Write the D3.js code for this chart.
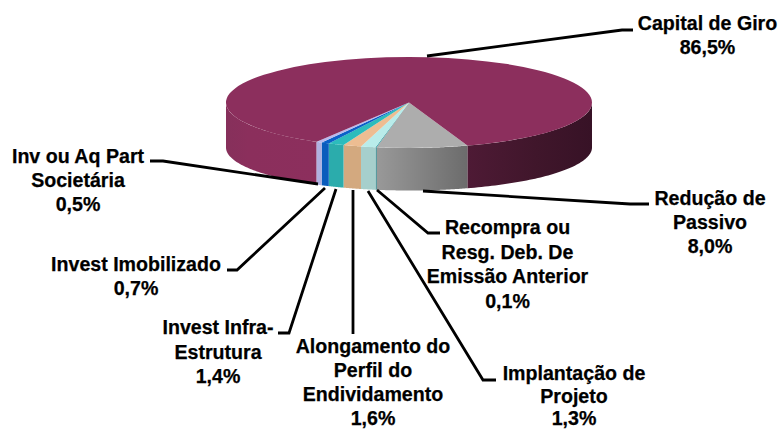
<!DOCTYPE html>
<html><head><meta charset="utf-8">
<script src="https://cdn.jsdelivr.net/npm/d3@7"></script>
<style>html,body{margin:0;padding:0;background:#fff}svg{display:block}
text{font-family:"Liberation Sans",Arial,sans-serif;font-weight:bold;font-size:19.6px;fill:#000;text-anchor:middle;stroke:#000;stroke-width:.25}</style>
</head><body><svg id="c" width="781" height="430"></svg>
<script>
const categories=["Redução de Passivo","Recompra ou Resg. Deb. De Emissão Anterior","Implantação de Projeto","Alongamento do Perfil do Endividamento","Invest Infra-Estrutura","Invest Imobilizado","Inv ou Aq Part Societária","Capital de Giro"];
const values=[8.0,0.1,1.3,1.6,1.4,0.7,0.5,86.5];
const valueLabels=["8,0%","0,1%","1,3%","1,6%","1,4%","0,7%","0,5%","86,5%"];
const labelLines=[["Redução de","Passivo"],["Recompra ou","Resg. Deb. De","Emissão Anterior"],["Implantação de","Projeto"],["Alongamento do","Perfil do","Endividamento"],["Invest Infra-","Estrutura"],["Invest Imobilizado"],["Inv ou Aq Part","Societária"],["Capital de Giro"]];
const topColors=["#adadad","#2a9aa0","#b9ecea","#edbd92","#2cbcbc","#0a60c8","#b9b9ec","#8c2f5d"];
const sideStops=[["#999999","#6c6c6c"],["#1c7a80","#1c7a80"],["#a6cfcc","#a6cfcc"],["#d3a97f","#d3a97f"],["#2bacac","#2bacac"],["#0a5cbc","#0a5cbc"],["#b0b0e0","#b0b0e0"],null];

const W=781,H=430,cx=409,cy=102.5,rx=183,ry=45.5,cyB=147.5,ryB=43;
const startAngle=(180-18.6)*Math.PI/180;
// label layout: centre x, first baseline, line gap, leader tip, elbow and end
const labelPos=[
 {x:710,y:205,gap:24,tip:[423,191],elbow:[630,204],end:[649,204]},
 {x:507.5,y:234,gap:24.7,tip:[377,190],elbow:[428,233],end:[440,233]},
 {x:574,y:380,gap:22.5,tip:[368,191],elbow:[483,380],end:[496,380]},
 {x:373,y:353,gap:24,tip:[353,190],elbow:[353,334],end:[353,334]},
 {x:218,y:334,gap:24.5,tip:[336,189],elbow:[289,333],end:[278,333]},
 {x:136,y:271,gap:24,tip:[325,188],elbow:[237,270],end:[227,270]},
 {x:78,y:163,gap:24,tip:[318,184],elbow:[163,161],end:[150,161]},
 {x:707.5,y:30,gap:24,tip:[427,56],elbow:[622,30],end:[633,30]}
];

const svg=d3.select("#c");
const defs=svg.append("defs");
const pie=d3.pie().sort(null).startAngle(startAngle).endAngle(startAngle+2*Math.PI).value(d=>d);
const arcs=pie(values);
const px=a=>cx+rx*Math.sin(a), py=a=>cy-ry*Math.cos(a), pyB=a=>cyB-ryB*Math.cos(a);
const sideLine=d3.line().x(d=>d[0]).y(d=>d[1]);
function sidePath(a0,a1){
  const as=d3.range(0,61).map(i=>a0+(a1-a0)*i/60);
  const t=as.map(a=>[px(a),py(a)]), b=as.slice().reverse().map(a=>[px(a),pyB(a)]);
  return sideLine(t.concat(b))+"Z";
}
const front=svg.append("g");
const crimson=arcs[7];
const gR=defs.append("linearGradient").attr("id","gR");
[["0%","#4e1a35"],["55%","#40162b"],["100%","#371226"]].forEach(s=>gR.append("stop").attr("offset",s[0]).attr("stop-color",s[1]));
const gL=defs.append("linearGradient").attr("id","gL");
[["0%","#86305b"],["25%","#8b2f5c"],["100%","#8c2f5d"]].forEach(s=>gL.append("stop").attr("offset",s[0]).attr("stop-color",s[1]));
front.append("path").attr("d",sidePath(Math.PI/2,startAngle)).attr("fill","url(#gR)");
front.append("path").attr("d",sidePath(crimson.startAngle,1.5*Math.PI)).attr("fill","url(#gL)");
arcs.slice(0,7).forEach((a,i)=>{
  const s=sideStops[i];
  const g=defs.append("linearGradient").attr("id","s"+i).attr("x1",0).attr("x2",1);
  g.append("stop").attr("offset","0%").attr("stop-color",s[0]);
  g.append("stop").attr("offset","100%").attr("stop-color",s[1]);
  front.append("path").attr("d",sidePath(a.startAngle,a.endAngle)).attr("fill",`url(#s${i})`);
});
// top faces
const arc=d3.arc().innerRadius(0).outerRadius(rx);
svg.append("g").attr("transform",`translate(${cx},${cy}) scale(1,${ry/rx})`)
  .selectAll("path").data(arcs).join("path").attr("d",arc).attr("fill",(d,i)=>topColors[i]);
// leaders
const lg=svg.append("g").attr("fill","none").attr("stroke","#000").attr("stroke-width",2.8);
labelPos.forEach(p=>lg.append("path").attr("d",d3.line()([p.tip,p.elbow,p.end])));
// labels
const tg=svg.append("g");
labelLines.forEach((lines,i)=>{
  const p=labelPos[i];
  lines.concat(valueLabels[i]).forEach((t,j)=>tg.append("text").attr("x",p.x).attr("y",p.y+j*p.gap).text(t));
});
</script></body></html>
